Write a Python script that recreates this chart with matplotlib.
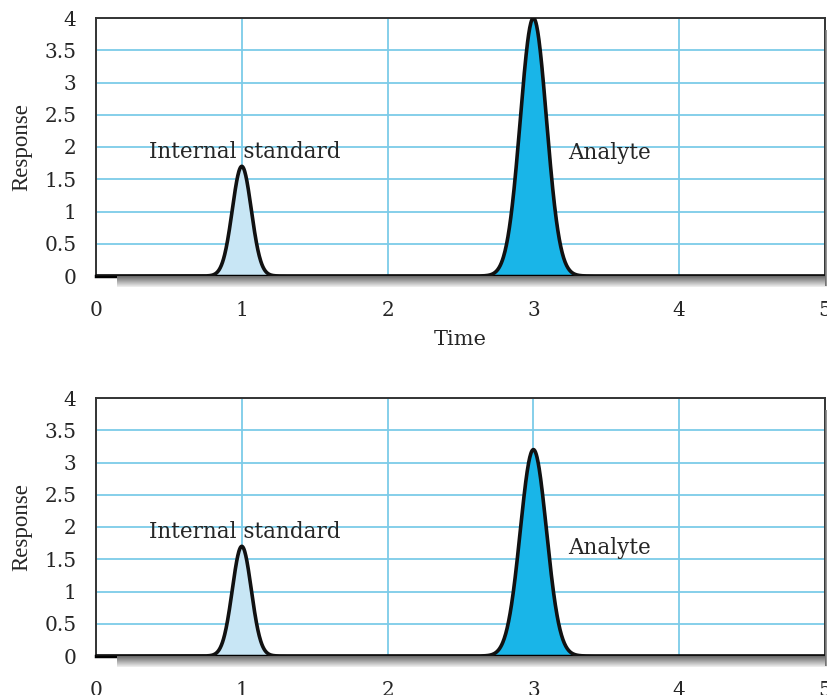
import numpy as np
import matplotlib.pyplot as plt
from matplotlib.patches import Rectangle

# chromatogram data
time_ticks = [0, 1, 2, 3, 4, 5]
response_ticks = [0, 0.5, 1, 1.5, 2, 2.5, 3, 3.5, 4]
response_labels = ["0", "0.5", "1", "1.5", "2", "2.5", "3", "3.5", "4"]
peak_names = ["Internal standard", "Analyte"]
peak_times = [1.0, 3.0]
peak_sigmas = [0.065, 0.09]
heights_top = [1.7, 4.0]
heights_bottom = [1.7, 3.2]
peak_colors = ["#c8e6f5", "#19b5e8"]
label_pos_top = [(1.02, 1.92), (3.52, 1.9)]
label_pos_bottom = [(1.02, 1.92), (3.52, 1.68)]

grid_color = "#7ccbe8"
text_color = "#262626"
plt.rcParams['font.family'] = ['DejaVu Serif']

W, H = 828, 695
fig = plt.figure(figsize=(W / 100, H / 100), dpi=100)

x = np.linspace(0, 5, 2001)


def add_shadow(rect):
    # soft grey shadow below and right of the frame
    x0 = rect[0] + 21 / W
    x1 = rect[0] + rect[2] + 3 / W
    n = 11
    for i in range(n):
        g = 0.42 + 0.5 * i / (n - 1)
        fig.patches.append(Rectangle((x0, rect[1] - (i + 1) / H), x1 - x0, 1 / H,
                                     transform=fig.transFigure, facecolor=(g, g, g),
                                     edgecolor="none", zorder=0))
    for i in range(4):
        g = 0.45 + 0.13 * i
        fig.patches.append(Rectangle((rect[0] + rect[2] + i / W, rect[1] - 10 / H), 1 / W,
                                     rect[3] - 2 / H, transform=fig.transFigure,
                                     facecolor=(g, g, g), edgecolor="none", zorder=0))


def draw_panel(rect, heights, label_pos, xlabel):
    add_shadow(rect)
    ax = fig.add_axes(rect)
    ax.set_xlim(0, 5)
    ax.set_ylim(0, 4)
    ax.set_xticks(time_ticks)
    ax.set_yticks(response_ticks)
    ax.set_yticklabels(response_labels)
    ax.tick_params(length=0, labelsize=14.5, colors=text_color)
    ax.tick_params(axis='y', pad=14)
    ax.tick_params(axis='x', pad=18)
    ax.grid(True, color=grid_color, linewidth=1.3)
    ax.set_axisbelow(True)
    for s in ax.spines.values():
        s.set_color("#333333")
        s.set_linewidth(1.4)
    ax.spines['bottom'].set_linewidth(2.5)
    ax.spines['bottom'].set_color("black")

    total = np.zeros_like(x)
    for t, sg, h, c in zip(peak_times, peak_sigmas, heights, peak_colors):
        y = h * np.exp(-(x - t) ** 2 / (2 * sg ** 2))
        total += y
        m = np.abs(x - t) < 4 * sg
        ax.fill_between(x[m], 0, y[m], color=c, zorder=2)
    ax.plot(x, total, color="#111111", linewidth=2.6, zorder=3, solid_capstyle='round')

    for name, (lx, ly) in zip(peak_names, label_pos):
        ax.text(lx, ly, name, ha="center", va="center", fontsize=15.5, color=text_color, zorder=4)

    ax.set_ylabel("Response", fontsize=16.5, color=text_color, family="Liberation Serif")
    ax.yaxis.set_label_coords(-0.087, 0.5)
    if xlabel:
        ax.set_xlabel(xlabel, fontsize=15, color=text_color, labelpad=7)
    return ax


draw_panel([96 / W, 1 - 276 / H, 729 / W, 258 / H], heights_top, label_pos_top, "Time")
draw_panel([96 / W, 1 - 656 / H, 729 / W, 258 / H], heights_bottom, label_pos_bottom, None)

fig.savefig("out.png", dpi=100)
